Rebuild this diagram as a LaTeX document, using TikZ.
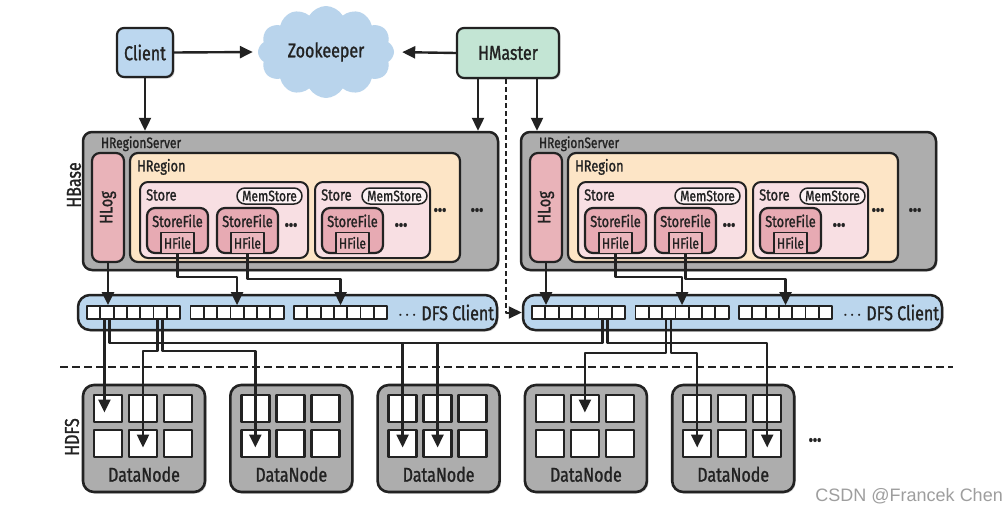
\documentclass[tikz,border=0pt]{standalone}
\usepackage{fontspec}
\setmainfont{Fira Sans}[FakeStretch=0.8, FakeBold=1.2]
\newfontfamily\wmfont{Liberation Sans}
\usetikzlibrary{arrows.meta,shapes.symbols,shadows}

\definecolor{clientblue}{HTML}{BCD7EF}
\definecolor{zkblue}{HTML}{B9D4EC}
\definecolor{mastergreen}{HTML}{C3E5D4}
\definecolor{servergray}{HTML}{ADADAD}
\definecolor{regionpeach}{HTML}{FDE5C6}
\definecolor{storepink}{HTML}{F8DFE3}
\definecolor{filepink}{HTML}{E7AAB3}
\definecolor{logpink}{HTML}{E9B3B9}
\definecolor{dfsblue}{HTML}{BBD6ED}
\definecolor{ink}{HTML}{222222}

\tikzset{
  base/.style={draw=ink, line width=2.2pt, inner sep=0pt, text=ink},
  shade/.style={drop shadow={shadow xshift=1.5pt, shadow yshift=-1.5pt, opacity=0.35}},
  topbox/.style={base, rounded corners=7pt},
  server/.style={base, line width=2.5pt, fill=servergray, rounded corners=9pt, shade},
  region/.style={base, fill=regionpeach, rounded corners=8pt},
  store/.style={base, line width=2pt, fill=storepink, rounded corners=8pt},
  sfile/.style={base, fill=filepink, rounded corners=8pt},
  hfile/.style={base, line width=1.5pt, fill=filepink!85!white, font=\fontsize{15}{17}\selectfont},
  hlog/.style={base, fill=logpink, rounded corners=8pt},
  mem/.style={base, line width=1.5pt, fill=storepink!40!white, rounded corners=8pt, font=\fontsize{15}{17}\selectfont},
  dfs/.style={base, line width=2.5pt, fill=dfsblue, rounded corners=12pt, shade},
  blk/.style={base, line width=1.8pt, fill=white, minimum width=13.3pt, minimum height=13pt},
  datanode/.style={base, line width=2.6pt, fill=servergray, rounded corners=11pt, minimum width=122pt, minimum height=107pt, shade},
  cell/.style={base, line width=2.4pt, fill=white, minimum width=28pt, minimum height=27pt},
  tag/.style={inner sep=0pt, text=ink},
  small/.style={tag, font=\fontsize{15}{17}\selectfont},
  mid/.style={tag, font=\fontsize{16}{18}\selectfont},
  dots/.style={tag, font=\bfseries\fontsize{22}{24}\selectfont},
  link/.style={draw=ink, line width=2.4pt, ->},
  sep/.style={draw=ink, line width=2.2pt, dash pattern=on 8pt off 4pt}
}

\begin{document}
\begin{tikzpicture}[x=1pt, y=-1pt, font=\fontsize{20}{24}\selectfont, line join=round, >={Triangle[length=13pt, width=12pt]}]
\fill[white] (0,0) rectangle (1006,514);
\useasboundingbox (0,0) rectangle (1006,514);

% top row
\node[topbox, fill=clientblue, minimum width=56pt, minimum height=49pt, shade] (client) at (145,52.5) {Client};
\node[cloud, cloud puffs=12, cloud puff arc=120, aspect=1.5, fill=zkblue, minimum width=136pt, minimum height=92pt, inner sep=0pt, text=ink] (zk) at (326,52) {Zookeeper};
\node[topbox, fill=mastergreen, minimum width=102pt, minimum height=50pt, shade] (hmaster) at (508,53) {HMaster};

% side labels
\node[tag, rotate=90] (lhbase) at (74,185) {HBase};
\node[tag, rotate=90] (lhdfs) at (72,437) {HDFS};

% region servers
\foreach \s/\dx in {A/0,B/438}{
\begin{scope}[xshift=\dx pt]
  \node[server, minimum width=415pt, minimum height=138pt] (hrs\s) at (290.5,201) {};
  \node[small, anchor=west] (lhrs\s) at ([xshift=19pt,yshift=-13pt]hrs\s.north west) {HRegionServer};
  \node[hlog, minimum width=32pt, minimum height=109pt] (hlog\s) at (108,207.5) {};
  \node[tag, rotate=90, font=\fontsize{18}{20}\selectfont] (lhlog\s) at (hlog\s) {HLog};
  \node[region, minimum width=330pt, minimum height=109pt] (hreg\s) at (295,207.5) {};
  \node[mid, anchor=west] (lhreg\s) at ([xshift=8pt,yshift=-15pt]hreg\s.north west) {HRegion};
  \node[store, minimum width=168pt, minimum height=76pt] (st\s1) at (224,220) {};
  \node[store, minimum width=115pt, minimum height=76pt] (st\s2) at (372.5,220) {};
  \foreach \n in {1,2}
    \node[mid, anchor=west] (lst\s\n) at ([xshift=7pt,yshift=-14pt]st\s\n.north west) {Store};
  \node[mem, minimum width=65pt, minimum height=16pt] (mem\s1) at (269.5,196) {MemStore};
  \node[mem, minimum width=65pt, minimum height=16pt] (mem\s2) at (394.5,196) {MemStore};
  \foreach \n/\x in {1/177.5,2/247.5,3/352.5}{
    \node[sfile, minimum width=61pt, minimum height=45pt] (sf\s\n) at (\x,230.5) {};
    \node[mid] (lsf\s\n) at ([yshift=-14pt]sf\s\n.north) {StoreFile};
    \node[hfile, minimum width=33pt, minimum height=21pt, anchor=south] (hf\s\n) at (sf\s\n.south) {HFile};
  }
  \node[dots] (dt\s1) at (291,225) {...};
  \node[dots] (dt\s2) at (401,225) {...};
  \node[dots] (dt\s3) at (440,210) {...};
  \node[dots] (dt\s4) at (477,210) {...};
\end{scope}
}

% DFS clients
\foreach \s/\dx in {A/0,B/445}{
\begin{scope}[xshift=\dx pt]
  \node[dfs, minimum width=419pt, minimum height=35pt] (dfs\s) at (287.5,312.5) {};
  \foreach \g in {0,1,2}
    \foreach \i in {0,...,6}
      \node[blk] (b\s\g\i) at ({93.65+\g*103.5+\i*13.3},312.5) {};
  \node[tag, anchor=east] (ldfs\s) at ([xshift=-4pt]dfs\s.east) {$\cdot\!\cdot\!\cdot$ DFS Client};
\end{scope}
}

\draw[sep] (60,367) -- (953,367);

% data nodes
\foreach \k in {1,...,5}{
  \node[datanode] (dn\k) at ({144+(\k-1)*147.3},438.5) {};
  \foreach \r/\yy in {1/408.5,2/443.5}
    \foreach \c in {1,2,3}{
      \node[cell] (cell\k\r\c) at ({108+(\k-1)*147.3+(\c-1)*35},\yy) {};
      \coordinate (tgt\k\r\c) at ([yshift=-4pt]cell\k\r\c.center);
    }
  \node[tag] (ldn\k) at ([yshift=19pt]dn\k.south) {DataNode};
}
\node[dots] (dtdn) at (815,440) {...};

% connectors
\draw[link, shorten >=5pt] (client.east) -- (zk.west);
\draw[link, shorten >=8pt] (hmaster.west) -- (zk.east);
\draw[link] (client.south) -- (client.south |- hrsA.north);
\coordinate (mA) at ([xshift=-30pt]hmaster.south);
\coordinate (mB) at ([xshift=29pt]hmaster.south);
\coordinate (mD) at ([xshift=-2pt]hmaster.south);
\draw[link] (mA) -- (mA |- hrsA.north);
\draw[link] (mB) -- (mB |- hrsB.north);
\draw[link, line width=2pt, dash pattern=on 5pt off 3pt] (mD) |- (dfsB.west);

\foreach \s in {A,B}{
  \draw[link] (hlog\s.south) -- (hlog\s.south |- b\s01.north);
  \draw[link] (hf\s1.south) -- ++(0,23) -| (b\s13.north);
  \draw[link] (hf\s2.south) -- ++(0,25) -| (b\s23.north);
}
\coordinate (oA1) at ([xshift=-2.5pt]bA01.south);
\coordinate (oA2) at ([xshift=2.5pt]bA01.south);
\coordinate (oA3) at ([xshift=-2.5pt]bA05.south);
\coordinate (oA4) at ([xshift=2.5pt]bA05.south);
\coordinate (oB1) at ([xshift=-2.5pt]bB05.south);
\coordinate (oB2) at ([xshift=2.5pt]bB05.south);
\coordinate (oB3) at ([xshift=-2.5pt]bB12.south);
\coordinate (oB4) at ([xshift=2.5pt]bB12.south);
\draw[link] (oA1) -- (oA1 |- tgt111);
\draw[link] (oA2) -- ++(0,23) -| (tgt322);
\draw[link] (oA3) -- ++(0,31) -| (tgt122);
\draw[link] (oA4) -- ++(0,31) -| (tgt221);
\draw[link] (oB1) -- ++(0,23) -| (tgt321);
\draw[link] (oB2) -- ++(0,23) -| (tgt523);
\draw[link] (oB3) -- ++(0,33) -| (tgt412);
\draw[link] (oB4) -- ++(0,33) -| (tgt521);

\node[anchor=east, inner sep=0pt, font=\wmfont\fontsize{18}{20}\selectfont, text=black!38] (wm) at (1003,496) {CSDN @Francek Chen};
\end{tikzpicture}
\end{document}
